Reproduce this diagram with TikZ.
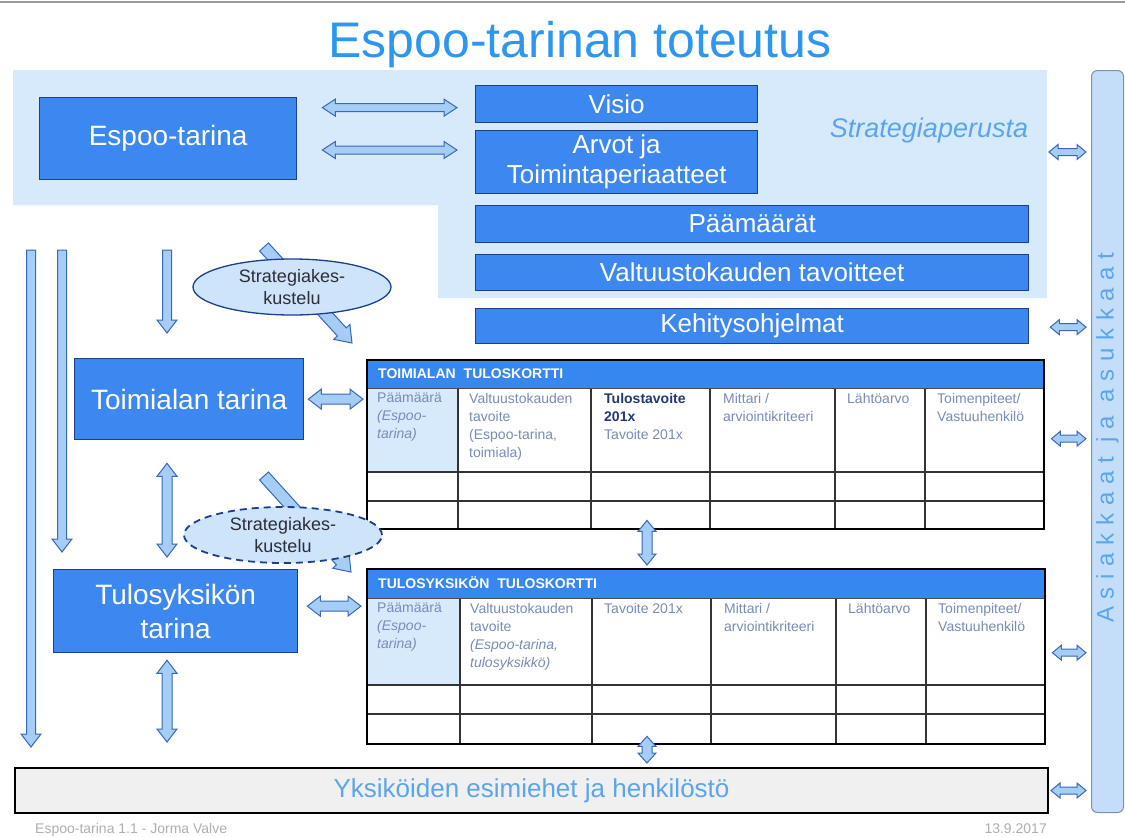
\documentclass[tikz,border=0pt]{standalone}
\usepackage{fontspec}
\setmainfont{Liberation Sans}
\usetikzlibrary{calc,shapes.geometric}

\definecolor{bgblue}{RGB}{214,234,252}
\definecolor{boxblue}{RGB}{60,136,240}
\definecolor{boxline}{RGB}{28,62,140}
\definecolor{titleblue}{RGB}{45,150,240}
\definecolor{arrowfill}{RGB}{165,205,245}
\definecolor{arrowline}{RGB}{55,105,185}
\definecolor{barfill}{RGB}{196,222,250}
\definecolor{barline}{RGB}{125,145,175}
\definecolor{bartext}{RGB}{90,165,238}
\definecolor{celltext}{RGB}{120,140,182}
\definecolor{celldark}{RGB}{35,55,120}
\definecolor{headblue}{RGB}{55,135,240}
\definecolor{cellblue}{RGB}{214,234,252}
\definecolor{graybox}{RGB}{240,240,240}
\definecolor{ellfill}{RGB}{205,228,250}
\definecolor{elltext}{RGB}{45,45,55}
\definecolor{footgray}{RGB}{172,176,182}

\newcommand{\fsz}[2]{\fontsize{#1}{#2}\selectfont}

\tikzset{
  bluebox/.style={draw=boxline, line width=1.3pt, fill=boxblue, text=white, inner sep=0pt,
    align=center, anchor=north west, font=\fsz{26}{30}},
  gridline/.style={draw=black!80, line width=1.3pt},
  tframe/.style={draw=black, line width=2.4pt, inner sep=0pt, anchor=north west},
  cell/.style={anchor=north west, inner sep=0pt, align=left, text=celltext, font=\fsz{14}{18}},
  hdr/.style={anchor=west, inner sep=0pt, text=white, font=\bfseries\fsz{14}{16}},
  ell/.style={ellipse, draw=boxline, fill=ellfill, line width=1.3pt, inner sep=0pt,
    align=center, text=elltext, font=\fsz{18}{22}},
  sarr/.style n args={3}{draw=arrowline, fill=arrowfill, line width=1pt, line join=miter,
    to path={let \p1=(\tikztostart), \p2=(\tikztotarget),
      \n1={atan2(\y2-\y1,\x2-\x1)}, \n2={veclen(\x2-\x1,\y2-\y1)} in
      ({\x1-(#1)*sin(\n1)},{\y1+(#1)*cos(\n1)})
      -- ({\x1+(\n2-(#3))*cos(\n1)-(#1)*sin(\n1)},{\y1+(\n2-(#3))*sin(\n1)+(#1)*cos(\n1)})
      -- ({\x1+(\n2-(#3))*cos(\n1)-(#2)*sin(\n1)},{\y1+(\n2-(#3))*sin(\n1)+(#2)*cos(\n1)})
      -- (\p2)
      -- ({\x1+(\n2-(#3))*cos(\n1)+(#2)*sin(\n1)},{\y1+(\n2-(#3))*sin(\n1)-(#2)*cos(\n1)})
      -- ({\x1+(\n2-(#3))*cos(\n1)+(#1)*sin(\n1)},{\y1+(\n2-(#3))*sin(\n1)-(#1)*cos(\n1)})
      -- ({\x1+(#1)*sin(\n1)},{\y1-(#1)*cos(\n1)}) -- cycle}},
  darr/.style n args={3}{draw=arrowline, fill=arrowfill, line width=1pt, line join=miter,
    to path={let \p1=(\tikztostart), \p2=(\tikztotarget),
      \n1={atan2(\y2-\y1,\x2-\x1)}, \n2={veclen(\x2-\x1,\y2-\y1)} in
      (\p1)
      -- ({\x1+(#3)*cos(\n1)-(#2)*sin(\n1)},{\y1+(#3)*sin(\n1)+(#2)*cos(\n1)})
      -- ({\x1+(#3)*cos(\n1)-(#1)*sin(\n1)},{\y1+(#3)*sin(\n1)+(#1)*cos(\n1)})
      -- ({\x1+(\n2-(#3))*cos(\n1)-(#1)*sin(\n1)},{\y1+(\n2-(#3))*sin(\n1)+(#1)*cos(\n1)})
      -- ({\x1+(\n2-(#3))*cos(\n1)-(#2)*sin(\n1)},{\y1+(\n2-(#3))*sin(\n1)+(#2)*cos(\n1)})
      -- (\p2)
      -- ({\x1+(\n2-(#3))*cos(\n1)+(#2)*sin(\n1)},{\y1+(\n2-(#3))*sin(\n1)-(#2)*cos(\n1)})
      -- ({\x1+(\n2-(#3))*cos(\n1)+(#1)*sin(\n1)},{\y1+(\n2-(#3))*sin(\n1)-(#1)*cos(\n1)})
      -- ({\x1+(#3)*cos(\n1)+(#1)*sin(\n1)},{\y1+(#3)*sin(\n1)-(#1)*cos(\n1)})
      -- ({\x1+(#3)*cos(\n1)+(#2)*sin(\n1)},{\y1+(#3)*sin(\n1)-(#2)*cos(\n1)})
      -- cycle}},
  bigdbl/.style={darr={4}{8.5}{13}},
  middbl/.style={darr={5}{10}{13}},
  smalldbl/.style={darr={3.5}{7.5}{9}},
  downarr/.style={sarr={4.5}{10}{13}},
  diagarr/.style={sarr={6}{11}{15}},
}

\begin{document}
\begin{tikzpicture}[x=1pt,y=-1pt]
\useasboundingbox[fill=white] (0,0) rectangle (1125,836);
\draw[black!40, line width=2pt] (0,1.5) -- (1125,1.5);

% title
\node[anchor=base, text=titleblue, font=\fsz{50}{56}, inner sep=0pt] (title) at (580,57) {Espoo-tarinan toteutus};

% strategy background
\fill[bgblue] (13,70) -- (1047,70) -- (1047,298) -- (438,298) -- (438,205) -- (13,205) -- cycle;

% blue boxes
\node[bluebox, font=\fsz{28}{32}, minimum width=257pt, minimum height=82pt] (espoo) at (39,97) {Espoo-tarina};
\node[bluebox, minimum width=282pt, minimum height=37pt] (visio) at (475,85) {Visio};
\node[bluebox, minimum width=282pt, minimum height=63pt] (arvot) at (475,130) {Arvot ja\\Toimintaperiaatteet};
\node[bluebox, minimum width=553pt, minimum height=37pt] (paam) at (475,205) {Päämäärät};
\node[bluebox, minimum width=553pt, minimum height=36pt] (valt) at (475,254) {Valtuustokauden tavoitteet};
\node[bluebox, minimum width=553pt, minimum height=35pt] (kehit) at (475,308) {Kehitysohjelmat};
\node[text=bartext, font=\itshape\fsz{27}{30}, inner sep=0pt] (sp) at (929,131) {Strategiaperusta};

\node[bluebox, font=\fsz{28}{32}, minimum width=229pt, minimum height=81pt] (toim) at (74,358) {Toimialan tarina};
\node[bluebox, font=\fsz{28}{34}, minimum width=244pt, minimum height=83pt] (tulos) at (53,569) {Tulosyksikön\\tarina};

% ---- table 1
\fill[headblue] (366,359) rectangle (1043,388);
\fill[cellblue] (366,388) rectangle (458,472);
\foreach \cx in {458,591,710,835,925} \draw[gridline] (\cx,388) -- (\cx,528);
\foreach \cy in {472,501} \draw[gridline] (366,\cy) -- (1043,\cy);
\draw[black!70, line width=0.8pt] (366,388) -- (1043,388);
\node[tframe, minimum width=677pt, minimum height=169pt] (t1) at (366,359) {};
\node[hdr] (t1h) at (378,374) {TOIMIALAN\hspace{8pt}TULOSKORTTI};
\node[cell] (t1c1) at (377,393) {Päämäärä\\\textit{(Espoo-}\\\textit{tarina)}};
\node[cell] (t1c2) at (469,393) {Valtuustokauden\\tavoite\\(Espoo-tarina,\\toimiala)};
\node[cell] (t1c3) at (604,393) {\textcolor{celldark}{\textbf{Tulostavoite}}\\\textcolor{celldark}{\textbf{201x}}\\Tavoite 201x};
\node[cell] (t1c4) at (723,393) {Mittari /\\arviointikriteeri};
\node[cell] (t1c5) at (847,393) {Lähtöarvo};
\node[cell] (t1c6) at (937,393) {Toimenpiteet/\\Vastuuhenkilö};

% ---- table 2
\fill[headblue] (366,568) rectangle (1044,598);
\fill[cellblue] (366,598) rectangle (460,685);
\foreach \cx in {460,592,711,836,926} \draw[gridline] (\cx,598) -- (\cx,743);
\foreach \cy in {685,714} \draw[gridline] (366,\cy) -- (1044,\cy);
\draw[black!70, line width=0.8pt] (366,598) -- (1044,598);
\node[tframe, minimum width=678pt, minimum height=175pt] (t2) at (366,568) {};
\node[hdr] (t2h) at (378,583) {TULOSYKSIKÖN\hspace{8pt}TULOSKORTTI};
\node[cell] (t2c1) at (377,603) {Päämäärä\\\textit{(Espoo-}\\\textit{tarina)}};
\node[cell] (t2c2) at (470,603) {Valtuustokauden\\tavoite\\\textit{(Espoo-tarina,}\\\textit{tulosyksikkö)}};
\node[cell] (t2c3) at (604,603) {Tavoite 201x};
\node[cell] (t2c4) at (724,603) {Mittari /\\arviointikriteeri};
\node[cell] (t2c5) at (848,603) {Lähtöarvo};
\node[cell] (t2c6) at (938,603) {Toimenpiteet/\\Vastuuhenkilö};

% bottom box and side bar
\node[draw=black, line width=2pt, fill=graybox, anchor=north west, minimum width=1033pt, minimum height=45pt,
  inner sep=0pt, text=bartext, font=\fsz{26}{30}] (bottom) at (14,767) {Yksiköiden esimiehet ja henkilöstö};
\node[draw=barline, line width=1pt, fill=barfill, rounded corners=6pt, anchor=north west,
  minimum width=32pt, minimum height=742pt, inner sep=0pt] (bar) at (1091,70) {};
\node[rotate=90, text=bartext, inner sep=0pt, font=\fsz{24}{26}\addfontfeature{LetterSpace=32}] (bartxt) at ($(bar.center)+(0,-4)$) {Asiakkaat ja asukkaat};

% coordinates for connectors
\coordinate (a1s) at ($(espoo.east|-visio.west)+(25,3.5)$);
\coordinate (a1e) at ($(visio.west|-a1s)+(-18,0)$);
\coordinate (a2s) at ($(espoo.east|-arvot.north)+(25,20)$);
\coordinate (a2e) at ($(arvot.west|-a2s)+(-18,0)$);
\coordinate (l1s) at (31,250);
\coordinate (l1e) at ($(l1s|-bottom.north)+(0,-20)$);
\coordinate (l2s) at (62,250);
\coordinate (l2e) at ($(l2s|-tulos.north)+(0,-17)$);
\coordinate (l3s) at (167,250);
\coordinate (l3e) at ($(l3s|-toim.north)+(0,-25)$);
\coordinate (d1s) at (264,247);
\coordinate (d1e) at ($(t1.north west)+(-14,-16)$);
\coordinate (d2s) at (264,476);
\coordinate (d2e) at ($(t2.north west)+(-15,4)$);
\coordinate (h1s) at ($(toim.east)+(4,0)$);
\coordinate (h1e) at ($(t1.west|-toim.east)+(-3,0)$);
\coordinate (h2s) at ($(tulos.east)+(9,-5)$);
\coordinate (h2e) at ($(t2.west|-h2s)+(-5,0)$);
\coordinate (v1s) at ($(toim.south-|l3s)+(0,23)$);
\coordinate (v1e) at ($(tulos.north-|l3s)+(0,-12)$);
\coordinate (v2s) at ($(tulos.south-|l3s)+(0,7)$);
\coordinate (v2e) at ($(bottom.north-|l3s)+(0,-25)$);
\coordinate (v3s) at ($(t1.south west)+(281,-10)$);
\coordinate (v3e) at ($(t2.north west)+(281,-3)$);
\coordinate (v4s) at ($(t2.south west)+(281,-9)$);
\coordinate (v4e) at ($(bottom.north-|v4s)+(0,-4)$);
\coordinate (r1s) at ($(bar.north west)+(-42,82)$);
\coordinate (r2s) at ($(kehit.east)+(21,1)$);
\coordinate (r3s) at ($(t1.east)+(6,-6)$);
\coordinate (r4s) at ($(t2.east)+(6,-4)$);
\coordinate (r5s) at ($(bottom.east)+(2,0)$);
\foreach \i in {1,...,5} \coordinate (r\i e) at ($(bar.west|-r\i s)+(-5,0)$);

% connectors
\draw[bigdbl] (a1s) to (a1e);
\draw[bigdbl] (a2s) to (a2e);
\draw[downarr] (l1s) to (l1e);
\draw[downarr] (l2s) to (l2e);
\draw[downarr] (l3s) to (l3e);
\draw[diagarr] (d1s) to (d1e);
\draw[diagarr] (d2s) to (d2e);
\draw[middbl] (h1s) to (h1e);
\draw[middbl] (h2s) to (h2e);
\draw[middbl] (v1s) to (v1e);
\draw[middbl] (v2s) to (v2e);
\draw[darr={5}{9}{11}] (v3s) to (v3e);
\draw[darr={5}{9}{10}] (v4s) to (v4e);
\foreach \i in {1,...,5} \draw[smalldbl] (r\i s) to (r\i e);

% ellipses
\node[ell, minimum width=198pt, minimum height=56pt] (e1) at (292,287) {Strategiakes-\\kustelu};
\node[ell, dash pattern=on 7pt off 5pt, line width=1.8pt, minimum width=198pt, minimum height=56pt] (e2) at (283,535) {Strategiakes-\\kustelu};

% footer
\node[anchor=base west, inner sep=0pt, text=footgray, font=\fsz{14}{16}] (foot1) at (35,833) {Espoo-tarina 1.1 - Jorma Valve};
\node[anchor=base east, inner sep=0pt, text=footgray, font=\fsz{14}{16}] (foot2) at (1047,833) {13.9.2017};
\end{tikzpicture}
\end{document}
